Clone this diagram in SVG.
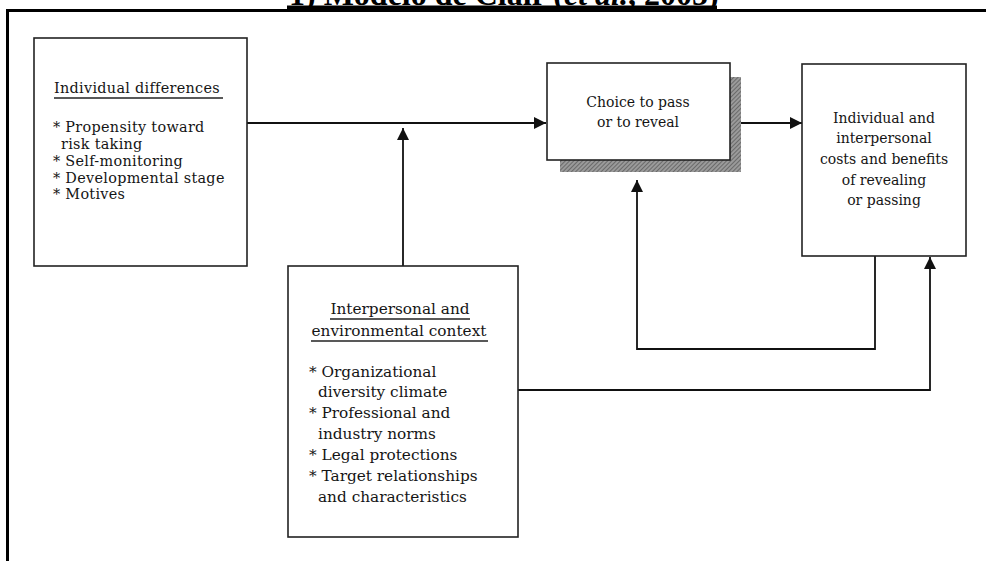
<svg xmlns="http://www.w3.org/2000/svg" width="986" height="561" viewBox="0 0 986 561">
<defs>
<style>
.box{fill:#fff;stroke:#222;stroke-width:1.6}
.t{font-family:"DejaVu Serif","Liberation Serif",serif;font-size:14px;fill:#151515}
.l{font-size:15.3px}
.s{font-size:14.4px;letter-spacing:0.3px}
.c{text-anchor:middle}
.ul{stroke:#222;stroke-width:1.3}
.conn{fill:none;stroke:#111;stroke-width:1.8}
.title{font-family:"Liberation Serif",serif;font-weight:bold;font-size:32px;fill:#000}
</style>
<marker id="arr" viewBox="0 0 12 12" refX="12" refY="6" markerWidth="12" markerHeight="12" markerUnits="userSpaceOnUse" orient="auto">
<path d="M0,0 L12,6 L0,12 Z" fill="#111"/>
</marker>
<pattern id="hatch" width="3" height="3" patternUnits="userSpaceOnUse" patternTransform="rotate(45)">
<rect width="3" height="3" fill="#9a9a9a"/>
<line x1="0" y1="0" x2="0" y2="3" stroke="#555" stroke-width="1.4"/>
</pattern>
</defs>
<g id="frame">
<text class="title" x="289" y="5">1) Modelo de Clair (<tspan font-style="italic">et al.</tspan>, 2005)</text>
<rect x="287" y="5.5" width="430" height="4.5" fill="#000"/>
<path d="M7.5,561 V10.5 H986" fill="none" stroke="#000" stroke-width="3"/>
</g>
<g id="connectors">
<path class="conn" d="M247,123 H546" marker-end="url(#arr)"/>
<path class="conn" d="M403,266 V128" marker-end="url(#arr)"/>
<path class="conn" d="M730,123 H802" marker-end="url(#arr)"/>
<path class="conn" d="M875,256 V349 H637 V180" marker-end="url(#arr)"/>
<path class="conn" d="M518,390 H930 V257" marker-end="url(#arr)"/>
</g>
<g id="individual">
<rect class="box" x="34" y="38" width="213" height="228"/>
<text class="t s" x="54" y="93">Individual differences</text>
<line class="ul" x1="54" y1="98" x2="223" y2="98"/>
<text class="t s" x="53" y="132">* Propensity toward</text>
<text class="t s" x="61" y="149">risk taking</text>
<text class="t s" x="53" y="166">* Self-monitoring</text>
<text class="t s" x="53" y="182.5">* Developmental stage</text>
<text class="t s" x="53" y="199">* Motives</text>
</g>
<g id="choice">
<rect x="560" y="77" width="181" height="95" fill="url(#hatch)"/>
<rect class="box" x="547" y="63" width="183" height="97"/>
<text class="t c" x="638" y="107">Choice to pass</text>
<text class="t c" x="638" y="127">or to reveal</text>
</g>
<g id="outcomes">
<rect class="box" x="802" y="64" width="164" height="192"/>
<text class="t c" x="884" y="123">Individual and</text>
<text class="t c" x="884" y="143">interpersonal</text>
<text class="t c" x="884" y="164">costs and benefits</text>
<text class="t c" x="884" y="185">of revealing</text>
<text class="t c" x="884" y="205">or passing</text>
</g>
<g id="context">
<rect class="box" x="288" y="266" width="230" height="271"/>
<text class="t l c" x="400" y="314">Interpersonal and</text>
<line class="ul" x1="330" y1="319" x2="470" y2="319"/>
<text class="t l c" x="399" y="336">environmental context</text>
<line class="ul" x1="311" y1="341" x2="488" y2="341"/>
<text class="t l" x="309" y="377">* Organizational</text>
<text class="t l" x="318" y="397">diversity climate</text>
<text class="t l" x="309" y="418">* Professional and</text>
<text class="t l" x="318" y="439">industry norms</text>
<text class="t l" x="309" y="460">* Legal protections</text>
<text class="t l" x="309" y="481">* Target relationships</text>
<text class="t l" x="318" y="502">and characteristics</text>
</g>
</svg>
